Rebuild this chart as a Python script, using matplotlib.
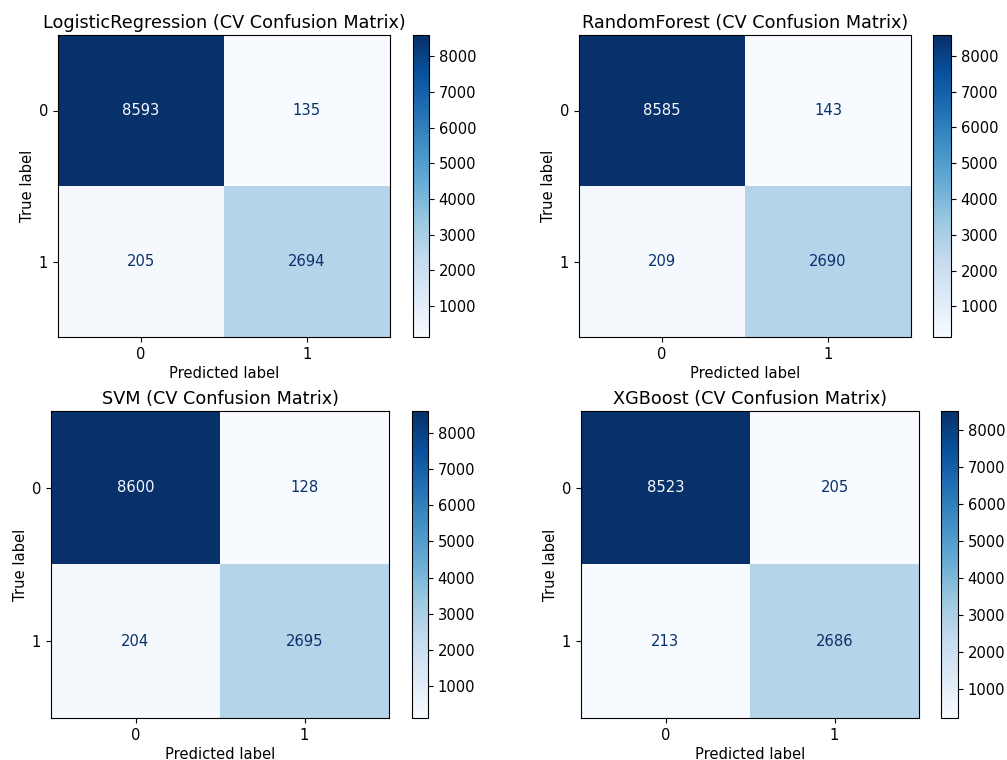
import numpy as np
import matplotlib
matplotlib.use("Agg")
import matplotlib.pyplot as plt

# confusion matrices from cross-validation, rows = true label, cols = predicted
model_names = ["LogisticRegression", "RandomForest", "SVM", "XGBoost"]
cm_logreg = [[8593, 135], [205, 2694]]
cm_rf = [[8585, 143], [209, 2690]]
cm_svm = [[8600, 128], [204, 2695]]
cm_xgb = [[8523, 205], [213, 2686]]
class_labels = ["0", "1"]

matrices = [cm_logreg, cm_rf, cm_svm, cm_xgb]

plt.rcParams["font.size"] = 10.6

W, H = 1007, 760
fig = plt.figure(figsize=(W / 100, H / 100), dpi=100)

# pixel boxes (left, top, right, bottom) for the image axes and colorbars
ax_boxes = [(58, 35, 390, 337), (579, 35, 911, 337),
            (51, 411, 389, 718), (581, 411, 919, 718)]
cb_boxes = [(413, 35, 429, 337), (933, 35, 951, 337),
            (412, 411, 428, 718), (941, 411, 958, 718)]


def to_fig(box):
    l, t, r, b = box
    return [l / W, 1 - b / H, (r - l) / W, (b - t) / H]


cmap = plt.get_cmap("Blues")
for name, cm, abox, cbox in zip(model_names, matrices, ax_boxes, cb_boxes):
    cm = np.array(cm)
    ax = fig.add_axes(to_fig(abox))
    cax = fig.add_axes(to_fig(cbox))
    im = ax.imshow(cm, cmap=cmap, aspect="auto", interpolation="nearest")
    thresh = (cm.max() + cm.min()) / 2.0
    for i in range(cm.shape[0]):
        for j in range(cm.shape[1]):
            color = cmap(1.0) if cm[i, j] < thresh else cmap(0.0)
            ax.text(j, i, str(cm[i, j]), ha="center", va="center",
                    color=color, fontsize=10.6)
    ax.set_xticks(range(len(class_labels)))
    ax.set_xticklabels(class_labels)
    ax.set_yticks(range(len(class_labels)))
    ax.set_yticklabels(class_labels)
    ax.set_xlabel("Predicted label", labelpad=3)
    ax.set_ylabel("True label", labelpad=3)
    ax.set_title(name + " (CV Confusion Matrix)", fontsize=12.7, pad=5)
    fig.colorbar(im, cax=cax)

fig.savefig("out.png", dpi=100)
